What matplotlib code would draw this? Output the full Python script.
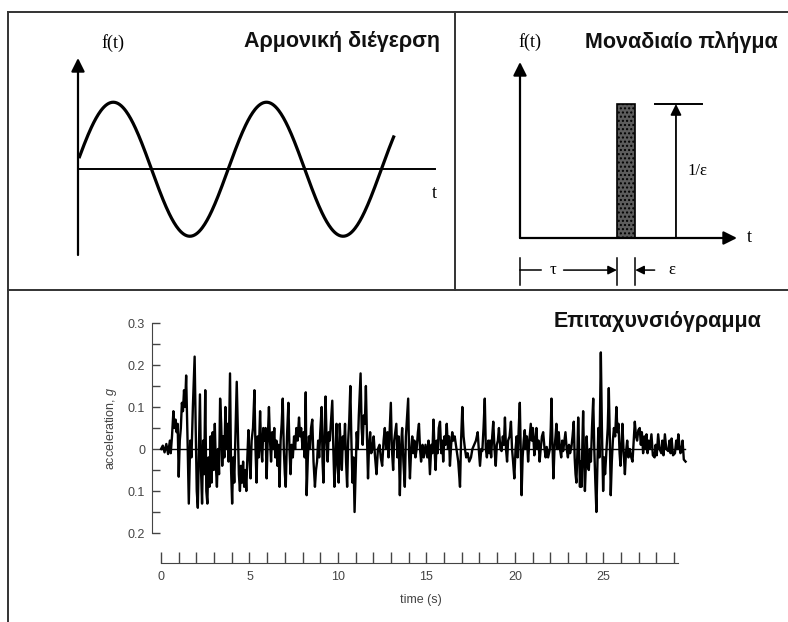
import numpy as np
import matplotlib
matplotlib.use("Agg")
import matplotlib.pyplot as plt
from matplotlib.ticker import FixedLocator, FuncFormatter

W, H = 788, 622

# harmonic excitation (schematic)
harmonic_amplitude = 1.0
harmonic_cycles = 2.06      # number of periods drawn
harmonic_phase = 0.02       # periods
harmonic_axis_len = 2.33    # length of t axis, periods

# unit impulse (schematic)
impulse_tau = 1.0
impulse_eps = 0.19
impulse_height = 1.0 / impulse_eps

# accelerogram (time in s, acceleration in g)
acc_t = [0.0, 0.1, 0.2, 0.3, 0.4, 0.5, 0.55, 0.62, 0.7, 0.76, 0.82, 0.88, 0.94, 1.0, 1.06, 1.12, 1.18, 1.24, 1.3, 1.36, 1.42, 1.5, 1.57,
         1.65, 1.72, 1.8, 1.9, 1.96, 2.02, 2.08, 2.14, 2.2, 2.26,
         2.32, 2.38, 2.44, 2.5, 2.56, 2.62, 2.68, 2.74, 2.8, 2.86,
         2.92, 2.98, 3.04, 3.1, 3.16, 3.22, 3.28, 3.34, 3.4, 3.46,
         3.52, 3.58, 3.64, 3.7, 3.76, 3.82, 3.9, 3.96, 4.02, 4.08,
         4.14, 4.2, 4.28, 4.34, 4.4, 4.46, 4.52, 4.58, 4.64, 4.7,
         4.76, 4.82, 4.88, 4.94, 5.0,
         5.06, 5.12, 5.2, 5.28, 5.34, 5.4, 5.46, 5.52, 5.6, 5.66,
         5.72, 5.78, 5.85, 5.91, 5.97, 6.03, 6.1, 6.16, 6.22, 6.28,
         6.34, 6.4, 6.46, 6.52, 6.58, 6.64, 6.7, 6.76, 6.82, 6.88,
         6.94, 7.0, 7.05, 7.12, 7.2, 7.26, 7.32, 7.38, 7.45, 7.52,
         7.58, 7.65, 7.72, 7.8, 7.86, 7.92, 8.0, 8.06, 8.12, 8.18,
         8.23, 8.3, 8.36, 8.42, 8.48, 8.55, 8.62, 8.7, 8.76, 8.82,
         8.88, 8.94, 9.0, 9.08, 9.13, 9.18, 9.24, 9.3, 9.36, 9.42,
         9.48, 9.54, 9.6, 9.68, 9.74, 9.8, 9.86, 9.92, 9.98,
         10.04, 10.1, 10.16, 10.22, 10.28, 10.34, 10.4, 10.46, 10.52, 10.58,
         10.64, 10.7, 10.76, 10.82, 10.88, 10.94, 11.0, 11.06, 11.12, 11.18,
         11.28, 11.34, 11.4, 11.46, 11.52, 11.58, 11.64, 11.7, 11.76, 11.82,
         11.88, 11.95, 12.02, 12.1, 12.18, 12.26, 12.35, 12.42, 12.5, 12.58,
         12.65, 12.72, 12.8, 12.86, 12.93, 12.99, 13.05, 13.12, 13.18, 13.24,
         13.3, 13.36, 13.43, 13.5, 13.56, 13.63, 13.7, 13.78, 13.84, 13.9,
         13.97, 14.02, 14.07, 14.14, 14.2, 14.26, 14.32, 14.38, 14.45, 14.52,
         14.58, 14.64, 14.7, 14.78, 14.85, 14.95,
         15.05, 15.12, 15.2, 15.28, 15.34, 15.4, 15.46, 15.52, 15.58, 15.64,
         15.7, 15.77, 15.84, 15.9, 15.95, 16.02, 16.08, 16.15, 16.22, 16.28,
         16.33, 16.4, 16.46, 16.52, 16.6, 16.7, 16.8, 16.9, 16.96, 17.03,
         17.1, 17.18, 17.25, 17.33, 17.42, 17.52, 17.6, 17.7, 17.8, 17.9,
         17.96, 18.03, 18.1, 18.16, 18.23, 18.3, 18.36, 18.42, 18.5, 18.56,
         18.6, 18.66, 18.72, 18.78, 18.85, 18.92, 18.98, 19.04, 19.1, 19.18,
         19.25, 19.32, 19.38, 19.44, 19.5, 19.56, 19.62, 19.7, 19.78, 19.84,
         19.9, 19.97, 20.04,
         20.1, 20.16, 20.22, 20.28, 20.33, 20.38, 20.44, 20.5, 20.56, 20.62,
         20.68, 20.75, 20.82, 20.9, 20.96, 21.02, 21.1, 21.16, 21.22, 21.28,
         21.34, 21.4, 21.46, 21.53, 21.6, 21.68, 21.74, 21.8, 21.88, 21.98,
         22.03, 22.07, 22.12, 22.18, 22.24, 22.3, 22.35, 22.42, 22.48, 22.55,
         22.62, 22.68, 22.73, 22.8, 22.86, 22.93, 23.0, 23.06, 23.12, 23.2,
         23.26, 23.33, 23.38, 23.43, 23.48, 23.54, 23.58, 23.62, 23.68, 23.72,
         23.77, 23.82, 23.86, 23.91, 23.96, 24.02, 24.06, 24.12, 24.18, 24.24,
         24.3, 24.36, 24.43, 24.49, 24.55, 24.61, 24.67, 24.72, 24.78, 24.86,
         24.92, 24.99, 25.05, 25.1, 25.18, 25.25, 25.31, 25.37, 25.42, 25.48,
         25.54, 25.6, 25.67, 25.74, 25.8, 25.86, 25.92, 25.97, 26.03, 26.08,
         26.14, 26.22, 26.28, 26.35, 26.42, 26.5, 26.58, 26.65,
         26.72, 26.78, 26.85, 26.91, 26.98, 27.06, 27.12, 27.18, 27.25, 27.32,
         27.38, 27.44, 27.5, 27.56, 27.63, 27.72, 27.8, 27.9, 27.96, 28.02,
         28.1, 28.18, 28.28, 28.34, 28.4, 28.48, 28.56, 28.67, 28.74, 28.8,
         28.86, 28.94, 29.05, 29.12, 29.18, 29.24, 29.3, 29.36, 29.42, 29.48, 29.55, 29.65]
acc_g = [0.0, 0.008, -0.008, 0.012, -0.012, 0.02, -0.01, 0.03, 0.09, 0.05, 0.07, 0.04, 0.06, -0.066, 0.02, 0.05, 0.11, 0.09, 0.14, 0.1, 0.175, 0.02, -0.13,
         0.02, -0.02, 0.1, 0.22, 0.05, -0.1, -0.14, 0.0, 0.13, -0.05,
         -0.13, 0.02, -0.06, 0.14, -0.1, -0.13, -0.02, -0.09, 0.03, -0.08,
         0.04, -0.05, 0.06, -0.04, -0.09, 0.0, -0.06, 0.12, 0.06, -0.04,
         0.03, -0.02, 0.1, 0.0, 0.06, -0.03, 0.18, -0.05, -0.13, -0.02,
         -0.08, 0.02, 0.16, 0.05, -0.06, -0.1, -0.04, -0.08, -0.03, -0.09,
         -0.05, -0.1, -0.02, 0.045, -0.02,
         -0.07, 0.02, 0.05, 0.14, 0.0, -0.08, 0.03, -0.02, 0.09, 0.0,
         -0.03, 0.05, 0.02, 0.05, -0.07, 0.02, 0.1, 0.02, -0.03, 0.04,
         0.0, 0.05, -0.02, 0.02, -0.04, 0.01, -0.09, 0.02, 0.06, 0.12,
         0.0, -0.06, -0.09, 0.03, 0.11, 0.0, -0.06, 0.01, -0.02, 0.03,
         0.0, 0.05, 0.02, 0.075, 0.03, 0.05, 0.0, 0.04, -0.02, 0.135,
         -0.11, -0.02, 0.03, 0.0, 0.05, 0.07, -0.03, -0.09, -0.05, -0.03,
         0.02, -0.02, 0.04, 0.1, -0.03, -0.08, 0.03, 0.125, 0.02, -0.03,
         0.04, 0.02, 0.06, 0.115, 0.0, -0.09, -0.02, 0.06, -0.04,
         -0.08, 0.06, 0.0, -0.05, 0.03, 0.0, 0.06, -0.03, -0.09, 0.02,
         0.07, 0.15, 0.02, -0.08, -0.02, -0.15, -0.05, 0.04, 0.0, 0.08,
         0.18, 0.05, 0.01, 0.08, 0.06, 0.15, 0.03, -0.07, 0.01, 0.04,
         -0.01, 0.0, 0.03, -0.02, -0.06, 0.0, 0.01, -0.02, -0.04, 0.02,
         0.05, 0.0, 0.04, -0.02, 0.05, 0.11, 0.0, -0.05, 0.02, 0.04,
         0.06, -0.02, 0.03, -0.11, 0.0, 0.05, -0.03, -0.09, 0.03, 0.07,
         0.12, -0.01, -0.07, 0.0, 0.03, -0.01, 0.02, -0.02, 0.0, 0.04,
         0.06, 0.0, -0.03, 0.01, -0.02, 0.01,
         -0.02, 0.02, -0.06, 0.01, -0.01, 0.07, 0.0, -0.05, 0.02, -0.01,
         0.05, 0.065, -0.01, 0.02, -0.03, 0.03, 0.01, 0.06, 0.0, 0.03,
         -0.04, 0.01, 0.04, 0.02, 0.03, 0.0, -0.03, -0.09, 0.02, 0.1,
         0.03, 0.0, -0.02, -0.01, -0.03, -0.02, 0.0, 0.01, 0.02, 0.04,
         0.0, -0.04, 0.0, -0.005, 0.05, 0.12, 0.0, -0.02, 0.02, -0.01,
         0.02, -0.02, 0.03, 0.065, 0.0, -0.04, 0.01, 0.02, 0.05, 0.0,
         -0.005, 0.03, 0.01, 0.075, 0.0, -0.03, 0.02, 0.03, 0.065, 0.0,
         -0.03, -0.07, 0.0,
         0.03, -0.02, 0.05, 0.11, 0.0, -0.11, -0.02, 0.02, 0.045, 0.0,
         0.03, -0.03, 0.02, 0.06, 0.02, 0.05, -0.015, 0.02, 0.05, 0.0,
         0.02, -0.03, 0.0, 0.03, 0.04, 0.0, -0.02, 0.005, -0.02, 0.0,
         0.05, 0.12, 0.02, -0.07, 0.0, 0.03, 0.06, 0.0, 0.04, 0.0,
         -0.02, 0.02, -0.005, 0.02, 0.04, 0.0, -0.02, 0.01, -0.01, 0.005,
         0.03, 0.065, -0.02, -0.06, -0.08, 0.0, 0.075, 0.02, -0.09, -0.03,
         -0.09, 0.02, 0.09, -0.02, -0.1, -0.03, 0.03, -0.04, -0.05, 0.0,
         -0.03, 0.05, 0.12, 0.0, -0.08, -0.15, -0.03, 0.05, -0.02, 0.23,
         0.05, -0.1, -0.02, -0.06, 0.0, 0.05, 0.145, 0.02, -0.11, -0.03,
         0.02, 0.05, 0.03, 0.1, 0.04, 0.06, -0.01, -0.04, 0.01, 0.06,
         0.0, -0.06, -0.01, 0.02, -0.02, 0.0, -0.02, -0.03,
         0.02, 0.065, 0.03, 0.02, 0.045, 0.05, 0.01, 0.04, -0.01, 0.03,
         0.0, 0.035, -0.01, 0.02, 0.0, 0.035, -0.015, -0.02, 0.01, -0.015,
         0.035, 0.0, -0.01, 0.02, -0.015, 0.035, 0.0, -0.005, 0.02, -0.01,
         0.025, -0.015, -0.01, 0.02, 0.0, 0.035, 0.01, -0.01, -0.005, 0.02, -0.025, -0.03]

acc_yticks = [0.3, 0.2, 0.1, 0.0, -0.1, -0.2]
acc_xticklabels = [0, 5, 10, 15, 20, 25]


def px_axes(fig, x0, y0, x1, y1):
    # pixel box (top-left origin) -> figure axes
    return fig.add_axes([x0 / W, 1 - y1 / H, (x1 - x0) / W, (y1 - y0) / H])


plt.rcParams['font.family'] = ['Liberation Sans', 'DejaVu Sans']
plt.rcParams['mathtext.fontset'] = 'custom'
plt.rcParams['mathtext.it'] = 'Liberation Sans:italic'

fig = plt.figure(figsize=(W / 100, H / 100), dpi=100)
fig.patch.set_facecolor("white")

# panel frames + free text, in pixel coordinates
bg = fig.add_axes([0, 0, 1, 1], zorder=5)
bg.set_xlim(0, W)
bg.set_ylim(H, 0)
bg.axis("off")
bg.patch.set_alpha(0)
frame = dict(color="#333333", lw=1.4)
bg.plot([8, W], [12, 12], **frame)
bg.plot([8, 8], [12, H], **frame)
bg.plot([455, 455], [12, 290], **frame)
bg.plot([8, W], [290, 290], **frame)

serif = ["Liberation Serif", "DejaVu Serif"]
title_kw = dict(family=["Liberation Sans", "DejaVu Sans"], fontweight="bold", fontsize=15.5, color="#111111")
arrow_kw = dict(arrowstyle="-|>", color="black", lw=1.6, mutation_scale=20, shrinkA=0, shrinkB=0)

# ---- harmonic excitation ----
ax1 = px_axes(fig, 78, 58, 435, 255)
ax1.set_xlim(0, harmonic_axis_len)
ax1.set_ylim(-1.28, 1.66)
ax1.axis("off")
t = np.linspace(0.01, harmonic_cycles, 400)
ax1.plot(t, harmonic_amplitude * np.sin(2 * np.pi * (t + harmonic_phase)), color="black", lw=2.3, clip_on=False)
ax1.plot([0, harmonic_axis_len], [0, 0], color="black", lw=1.4, clip_on=False)
ax1.annotate("", xy=(0, 1.66), xytext=(0, -1.28), arrowprops=arrow_kw, annotation_clip=False)
bg.text(113, 43, "f(t)", family=serif, fontsize=13, ha="center", va="center")
bg.text(434, 193, "t", family=serif, fontsize=13, ha="center", va="center")
bg.text(440, 42, "Αρμονική διέγερση", ha="right", va="center", **title_kw)

# ---- unit impulse ----
ax2 = px_axes(fig, 520, 62, 737, 238)
xmax2 = 2.24
ymax2 = impulse_height * 176 / 134
ax2.set_xlim(0, xmax2)
ax2.set_ylim(0, ymax2)
ax2.axis("off")
ax2.annotate("", xy=(0, ymax2), xytext=(0, 0), arrowprops=arrow_kw, annotation_clip=False)
ax2.annotate("", xy=(xmax2, 0), xytext=(0, 0), arrowprops=arrow_kw, annotation_clip=False)
ax2.bar(impulse_tau, impulse_height, width=impulse_eps, align="edge", color="#5c5c5c",
        edgecolor="black", lw=1.2, hatch="....", clip_on=False)
xa = impulse_tau + impulse_eps + 0.42
ax2.annotate("", xy=(xa, impulse_height), xytext=(xa, 0),
             arrowprops=dict(arrow_kw, mutation_scale=16, lw=1.3), annotation_clip=False)
ax2.plot([xa - 0.22, xa + 0.27], [impulse_height, impulse_height], color="black", lw=1.4, clip_on=False)
ax2.text(xa + 0.12, impulse_height / 2, "1/ε", family=serif, fontsize=12, ha="left", va="center")
ax2.text(xmax2 + 0.1, 0, "t", family=serif, fontsize=13, ha="left", va="center")
bg.text(530, 42, "f(t)", family=serif, fontsize=13, ha="center", va="center")
# dimension marks under the axis
yd = -1.26
for xt in (0, impulse_tau, impulse_tau + impulse_eps):
    ax2.plot([xt, xt], [-0.8, -1.85], color="black", lw=1.1, clip_on=False)
ax2.plot([0, 0.22], [yd, yd], color="black", lw=1.1, clip_on=False)
ax2.text(0.34, yd, "τ", family=serif, fontsize=12, ha="center", va="center")
ax2.annotate("", xy=(impulse_tau, yd), xytext=(0.45, yd),
             arrowprops=dict(arrow_kw, mutation_scale=13, lw=1.1), annotation_clip=False)
ax2.annotate("", xy=(impulse_tau + impulse_eps, yd), xytext=(impulse_tau + impulse_eps + 0.2, yd),
             arrowprops=dict(arrow_kw, mutation_scale=13, lw=1.1), annotation_clip=False)
ax2.text(impulse_tau + impulse_eps + 0.38, yd, "ε", family=serif, fontsize=12, ha="center", va="center")
bg.text(778, 42, "Μοναδιαίο πλήγμα", ha="right", va="center", **title_kw)

# ---- accelerogram ----
n = min(len(acc_t), len(acc_g))
ax3 = px_axes(fig, 152, 323, 690, 533)
ax3.patch.set_alpha(0)
ax3.set_xlim(-0.51, 29.9)
ax3.set_ylim(-0.2, 0.3)
ax3.plot(acc_t[:n], acc_g[:n], color="black", lw=1.7)
ax3.plot([0, 29.6], [0, 0], color="black", lw=1.0)
for s in ("top", "right"):
    ax3.spines[s].set_visible(False)
gray = "#444444"
ax3.spines["left"].set_bounds(-0.2, 0.3)
ax3.spines["left"].set_color(gray)
ax3.spines["bottom"].set_position(("outward", 21.6))
ax3.spines["bottom"].set_bounds(0, 29.2)
ax3.spines["bottom"].set_color(gray)
ax3.yaxis.set_major_locator(FixedLocator(acc_yticks))
ax3.yaxis.set_minor_locator(FixedLocator([0.25, 0.15, 0.05, -0.05, -0.15]))
ax3.yaxis.set_major_formatter(FuncFormatter(lambda v, p: "0" if abs(v) < 1e-9 else "%.1f" % abs(v)))
ax3.xaxis.set_major_locator(FixedLocator(range(0, 30)))
ax3.xaxis.set_major_formatter(FuncFormatter(lambda v, p: str(int(round(v))) if int(round(v)) in acc_xticklabels else ""))
ax3.tick_params(axis="y", which="both", direction="in", length=6, width=1, colors=gray, labelsize=9, pad=5)
ax3.tick_params(axis="x", direction="in", length=8, width=1, colors=gray, labelsize=9, pad=6)
ax3.set_ylabel("acceleration, $g$", fontsize=9, color=gray, labelpad=6)
ax3.set_xlabel("time (s)", fontsize=9, color=gray, labelpad=8)
bg.text(762, 322, "Επιταχυνσιόγραμμα", ha="right", va="center", **title_kw)

fig.savefig("out.png", dpi=100, facecolor="white")
